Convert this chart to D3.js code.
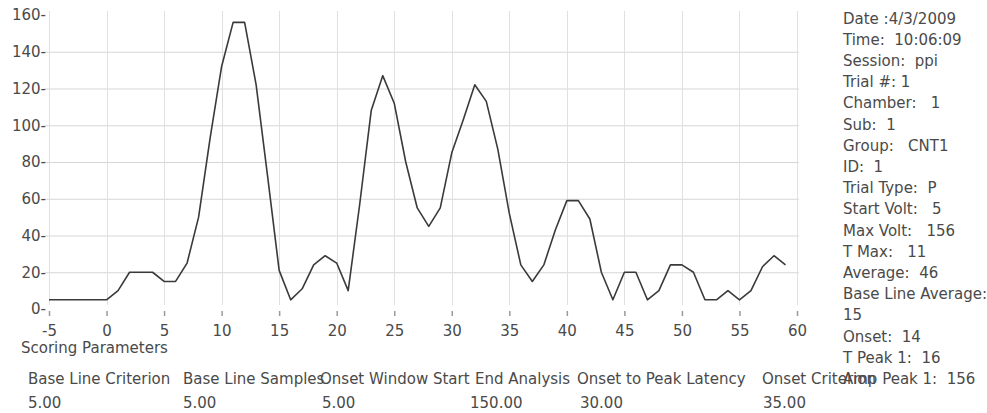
<!DOCTYPE html>
<html>
<head>
<meta charset="utf-8">
<script src="https://cdn.jsdelivr.net/npm/d3@7/dist/d3.min.js"></script>
<style>
  body { margin: 0; background: #fff; }
  text { font-family: "DejaVu Sans", Verdana, sans-serif; fill: #4a4a4a; white-space: pre; }
</style>
</head>
<body>
<div id="container"></div>
<script>
// sample times and amplitudes
var times = [-5, -4, -3, -2, -1, 0, 1, 2, 3, 4, 5, 6, 7, 8, 9, 10, 11, 12, 13, 14,
  15, 16, 17, 18, 19, 20, 21, 22, 23, 24, 25, 26, 27, 28, 29, 30, 31, 32, 33, 34,
  35, 36, 37, 38, 39, 40, 41, 42, 43, 44, 45, 46, 47, 48, 49, 50, 51, 52, 53, 54,
  55, 56, 57, 58, 59];
var amplitude = [5, 5, 5, 5, 5, 5, 10, 20, 20, 20, 15, 15, 25, 50, 93, 132, 156, 156, 122, 72,
  21, 5, 11, 24, 29, 25, 10, 57, 108, 127, 112, 80, 55, 45, 55, 85, 103, 122, 113, 87,
  52, 24, 15, 24, 43, 59, 59, 49, 20, 5, 20, 20, 5, 10, 24, 24, 20, 5, 5, 10,
  5, 10, 23, 29, 24];

var xTicks = [-5, 0, 5, 10, 15, 20, 25, 30, 35, 40, 45, 50, 55, 60];
var yTicks = [0, 20, 40, 60, 80, 100, 120, 140, 160];

var paramNames = ['Base Line Criterion', 'Base Line Samples', 'Onset Window Start',
  'End Analysis', 'Onset to Peak Latency', 'Onset Criterion'];
var paramValues = ['5.00', '5.00', '5.00', '150.00', '30.00', '35.00'];

var infoLines = ['Date :4/3/2009', 'Time:  10:06:09', 'Session:  ppi', 'Trial #: 1',
  'Chamber:   1', 'Sub:  1', 'Group:   CNT1', 'ID:  1', 'Trial Type:  P',
  'Start Volt:   5', 'Max Volt:   156', 'T Max:   11', 'Average:  46',
  'Base Line Average:', '15', 'Onset:  14', 'T Peak 1:  16', 'Amp Peak 1:  156'];

var width = 987, height = 413;

var svg = d3.select('#container').append('svg')
  .attr('width', width).attr('height', height);

var x = d3.scaleLinear().domain([-5, 60]).range([49, 797]);
var y = d3.scaleLinear().domain([0, 160]).range([309, 15]);

// grid
svg.append('g').selectAll('line')
  .data(yTicks.filter(function(d) { return d > 0 && d < 160; }))
  .enter().append('line')
  .attr('x1', 45).attr('x2', 799)
  .attr('y1', function(d) { return y(d) + 0.5; })
  .attr('y2', function(d) { return y(d) + 0.5; })
  .attr('stroke', '#d6d6d6').attr('stroke-width', 1);

svg.append('g').selectAll('line')
  .data(xTicks)
  .enter().append('line')
  .attr('x1', function(d) { return Math.round(x(d)) + 0.5; })
  .attr('x2', function(d) { return Math.round(x(d)) + 0.5; })
  .attr('y1', 11).attr('y2', 305)
  .attr('stroke', '#e0e0e0').attr('stroke-width', 1);

// x axis ticks + labels (plain hyphen for negatives, like the source)
var xAxis = d3.axisBottom(x).tickValues(xTicks).tickSize(5).tickPadding(9)
  .tickFormat(function(d) { return String(d); });
var gx = svg.append('g').attr('transform', 'translate(0,311)').call(xAxis);
gx.select('.domain').remove();
gx.selectAll('.tick line').attr('stroke', '#9a9a9a').attr('stroke-width', 1.5);
gx.selectAll('.tick text').attr('font-size', 15).attr('fill', '#4a4a4a')
  .attr('font-family', '"DejaVu Sans", Verdana, sans-serif');

// y labels, software draws the tick dash as part of the label
var yAxis = d3.axisLeft(y).tickValues(yTicks).tickSize(0).tickPadding(0)
  .tickFormat(function(d) { return d + '-'; });
var gy = svg.append('g').attr('transform', 'translate(46,0)').call(yAxis);
gy.select('.domain').remove();
gy.selectAll('.tick text').attr('font-size', 15).attr('fill', '#4a4a4a')
  .attr('font-family', '"DejaVu Sans", Verdana, sans-serif');

// trace
var line = d3.line()
  .x(function(d, i) { return x(times[i]); })
  .y(function(d) { return y(d); });

svg.append('path')
  .datum(amplitude)
  .attr('d', line)
  .attr('fill', 'none')
  .attr('stroke', '#3a3a3a')
  .attr('stroke-width', 1.6)
  .attr('stroke-linejoin', 'round');

// scoring parameters
svg.append('text').attr('x', 21).attr('y', 353).attr('font-size', 15)
  .text('Scoring Parameters');

var nameX = [28, 183, 320, 475, 577, 762];
var valueX = [28, 183, 322, 470, 580, 763];

svg.append('g').selectAll('text')
  .data(paramNames).enter().append('text')
  .attr('x', function(d, i) { return nameX[i]; })
  .attr('y', 384).attr('font-size', 15)
  .text(function(d) { return d; });

svg.append('g').selectAll('text')
  .data(paramValues).enter().append('text')
  .attr('x', function(d, i) { return valueX[i]; })
  .attr('y', 408).attr('font-size', 15)
  .text(function(d) { return d; });

// trial info panel
svg.append('g').selectAll('text')
  .data(infoLines).enter().append('text')
  .attr('x', 843)
  .attr('y', function(d, i) { return 23.5 + i * 21.2; })
  .attr('font-size', 15)
  .text(function(d) { return d; });
</script>
</body>
</html>
